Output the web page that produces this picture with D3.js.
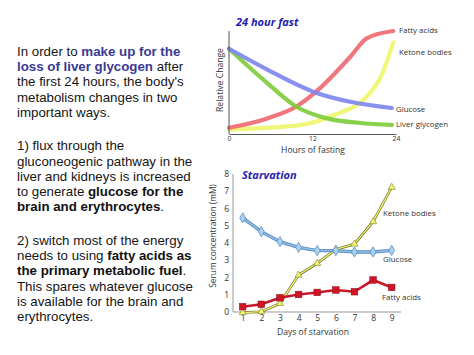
<!DOCTYPE html>
<html><head><meta charset="utf-8">
<script src="https://cdn.jsdelivr.net/npm/d3@7"></script>
<style>html,body{margin:0;padding:0;background:#fff;}svg{display:block;}</style>
</head><body>
<svg id="c" width="474" height="355"></svg>
<script>
// ---- Top chart (24 hour fast): relative change vs hours ----
const fastHours = {
  fatty:    [0, 5.5, 9.8, 12.4, 17.4, 19.8, 23.6],
  ketone:   [0, 10.2, 15, 19.8, 22.1, 23.6],
  glucose:  [0, 5.5, 12.4, 17.4, 23.4],
  glycogen: [0, 5.5, 9.5, 14.1, 18.8, 23.4]
};
const fastFatty    = [6, 15, 27, 40, 74, 92, 99];
const fastKetone   = [4.5, 8.6, 18, 36, 59, 88];
const fastGlucose  = [82, 62, 40, 31, 25];
const fastGlycogen = [82, 49, 27, 15, 10.6, 8.7];
const fastTicks = [0, 12, 24];
const fastLabels = ["Fatty acids", "Ketone bodies", "Glucose", "Liver glycogen"];

// ---- Bottom chart (starvation): serum concentration vs days ----
const days = [1, 2, 3, 4, 5, 6, 7, 8, 9];
const starvGlucose = [5.45, 4.65, 4.07, 3.74, 3.55, 3.55, 3.47, 3.47, 3.56];
const starvKetone  = [-0.05, 0, 0.48, 2.13, 2.81, 3.62, 3.93, 5.23, 7.23];
const starvFatty   = [0.29, 0.43, 0.81, 1.0, 1.12, 1.26, 1.16, 1.84, 1.41];
const yTicks = [0, 1, 2, 3, 4, 5, 6, 7, 8];

// ---- Left text ----
const textLines = [
  [["In order to ", "n"], ["make up for the", "b"]],
  [["loss of liver glycogen", "b"], [" after", "n"]],
  [["the first 24 hours, the body's", "n"]],
  [["metabolism changes in two", "n"]],
  [["important ways.", "n"]],
  null,
  [["1) flux through the", "n"]],
  [["gluconeogenic pathway in the", "n"]],
  [["liver and kidneys is increased", "n"]],
  [["to generate ", "n"], ["glucose for the", "k"]],
  [["brain and erythrocytes", "k"], [".", "n"]],
  null,
  [["2) switch most of the energy", "n"]],
  [["needs to using ", "n"], ["fatty acids as", "k"]],
  [["the primary metabolic fuel", "k"], [".", "n"]],
  [["This spares whatever glucose", "n"]],
  [["is available for the brain and", "n"]],
  [["erythrocytes.", "n"]]
];

const svg = d3.select("#c");
const chartFont = "'Open Sans', 'Noto Sans', sans-serif";

// Left text block
const tx = svg.append("text").attr("x", 17).attr("font-family", "'Liberation Sans', Arial, sans-serif")
  .attr("font-size", 13.3).attr("fill", "#151515");
let ty = 55.9;
textLines.forEach((ln) => {
  if (ln === null) { ty += 18.5; return; }
  ln.forEach((seg, j) => {
    const t = tx.append("tspan").text(seg[0]);
    if (j === 0) t.attr("x", 17).attr("y", ty);
    if (seg[1] === "b") t.attr("font-weight", "bold").attr("fill", "#3a3a95");
    if (seg[1] === "k") t.attr("font-weight", "bold").attr("fill", "#111");
  });
  ty += 15.2;
});

// ===== Top chart =====
const x1 = d3.scaleLinear().domain([0, 24]).range([229, 396]);
const y1 = d3.scaleLinear().domain([0, 100]).range([134, 30]);
const g1 = svg.append("g");

const topSeries = [
  {h: fastHours.fatty, v: fastFatty, c: "#ef6b73"},
  {h: fastHours.ketone, v: fastKetone, c: "#eef56c"},
  {h: fastHours.glucose, v: fastGlucose, c: "#7f88ee"},
  {h: fastHours.glycogen, v: fastGlycogen, c: "#7fcd3e"}
];
const line1 = d3.line().x(d => x1(d[0])).y(d => y1(d[1])).curve(d3.curveMonotoneX);
[1, 0, 3, 2].forEach(i => {
  const s = topSeries[i];
  g1.append("path").attr("d", line1(s.h.map((h, k) => [h, s.v[k]])))
    .attr("fill", "none").attr("stroke", s.c).attr("stroke-width", 4.2)
    .attr("stroke-linecap", "round").attr("opacity", 0.92);
});

const ax1 = d3.axisBottom(x1).tickValues(fastTicks).tickSize(0).tickPadding(2);
const gx1 = g1.append("g").attr("transform", "translate(0,134)").call(ax1);
gx1.select(".domain").attr("stroke", "#555").attr("stroke-width", 1);
gx1.selectAll("text").attr("font-family", chartFont).attr("font-size", 6.8).attr("fill", "#333");
g1.append("line").attr("x1", 229).attr("x2", 229).attr("y1", 31).attr("y2", 134)
  .attr("stroke", "#555").attr("stroke-width", 1);

g1.append("text").attr("x", 313).attr("y", 152.5).attr("text-anchor", "middle")
  .attr("font-family", chartFont).attr("font-size", 8.6).attr("fill", "#333").text("Hours of fasting");
g1.append("text").attr("transform", "translate(223,80) rotate(-90)").attr("text-anchor", "middle")
  .attr("font-family", chartFont).attr("font-size", 8.6).attr("fill", "#333").text("Relative Change");
g1.append("text").attr("x", 236).attr("y", 26).attr("font-family", "'Open Sans', sans-serif")
  .attr("font-weight", "bold").attr("font-style", "italic").attr("font-size", 11)
  .attr("fill", "#1e1eb0").text("24 hour fast");

const topLabelPos = [[399, 33], [399, 55], [396, 112], [396, 127]];
fastLabels.forEach((l, i) => {
  g1.append("text").attr("x", topLabelPos[i][0]).attr("y", topLabelPos[i][1])
    .attr("font-family", chartFont).attr("font-size", 7.9).attr("fill", "#333").text(l);
});

// ===== Bottom chart =====
const x2 = d3.scaleLinear().domain([1, 9]).range([242.7, 391.7]);
const y2 = d3.scaleLinear().domain([0, 8]).range([311.7, 174]);
const g2 = svg.append("g");

const ax2 = d3.axisBottom(x2).tickValues(days).tickSize(0).tickPadding(3).tickFormat(d3.format("d"));
const gx2 = g2.append("g").attr("transform", "translate(0,312)").call(ax2);
gx2.select(".domain").remove();
g2.append("line").attr("x1", 233).attr("x2", 401).attr("y1", 312).attr("y2", 312).attr("stroke", "#999").attr("stroke-width", 1);
gx2.selectAll("text").attr("font-family", chartFont).attr("font-size", 8.5).attr("fill", "#333");
const ay2 = d3.axisLeft(y2).tickValues(yTicks).tickSize(0).tickPadding(4).tickFormat(d3.format("d"));
const gy2 = g2.append("g").attr("transform", "translate(233,0)").call(ay2);
gy2.select(".domain").remove();
g2.append("line").attr("x1", 233).attr("x2", 233).attr("y1", 174).attr("y2", 312).attr("stroke", "#999").attr("stroke-width", 1);
gy2.selectAll("text").attr("font-family", chartFont).attr("font-size", 8.5).attr("fill", "#333");

g2.append("text").attr("x", 313).attr("y", 335).attr("text-anchor", "middle")
  .attr("font-family", chartFont).attr("font-size", 8.6).attr("fill", "#333").text("Days of starvation");
g2.append("text").attr("transform", "translate(216,236) rotate(-90)").attr("text-anchor", "middle")
  .attr("font-family", chartFont).attr("font-size", 8.3).attr("fill", "#333").text("Serum concentration (mM)");
g2.append("text").attr("x", 242).attr("y", 179).attr("font-family", "'Open Sans', sans-serif")
  .attr("font-weight", "bold").attr("font-style", "italic").attr("font-size", 11)
  .attr("fill", "#1e1eb0").text("Starvation");

const line2 = d3.line().x((d, i) => x2(days[i])).y(d => y2(d));

g2.append("path").attr("d", line2(starvKetone)).attr("fill", "none").attr("stroke", "#6b6b2a").attr("stroke-width", 2.6);
g2.append("path").attr("d", line2(starvKetone)).attr("fill", "none").attr("stroke", "#f4f56e").attr("stroke-width", 1.3);
g2.selectAll(".tri").data(starvKetone).join("path")
  .attr("transform", (d, i) => `translate(${x2(days[i])},${y2(d)})`)
  .attr("d", d3.symbol(d3.symbolTriangle, 22)).attr("fill", "#f4f56e").attr("stroke", "#7a7a30").attr("stroke-width", 0.6);

g2.append("path").attr("d", line2(starvGlucose)).attr("fill", "none").attr("stroke", "#5e8fbf").attr("stroke-width", 3.4);
g2.append("path").attr("d", line2(starvGlucose)).attr("fill", "none").attr("stroke", "#8dbde8").attr("stroke-width", 1.5);
g2.selectAll(".dia").data(starvGlucose).join("path")
  .attr("transform", (d, i) => `translate(${x2(days[i])},${y2(d)})`)
  .attr("d", d3.symbol(d3.symbolDiamond, 30)).attr("fill", "#a9d2f2").attr("stroke", "#5b8fc2").attr("stroke-width", 0.8);

g2.append("path").attr("d", line2(starvFatty)).attr("fill", "none").attr("stroke", "#c8182a").attr("stroke-width", 2.6);
g2.selectAll(".sq").data(starvFatty).join("rect")
  .attr("x", (d, i) => x2(days[i]) - 3.3).attr("y", d => y2(d) - 3.3)
  .attr("width", 6.6).attr("height", 6.6).attr("fill", "#d01425").attr("stroke", "#8a0d18").attr("stroke-width", 0.5);

const botLabels = [["Ketone bodies", 383, 216], ["Glucose", 383, 262], ["Fatty acids", 382, 300]];
botLabels.forEach(l => {
  g2.append("text").attr("x", l[1]).attr("y", l[2]).attr("font-family", chartFont)
    .attr("font-size", 7.9).attr("fill", "#333").text(l[0]);
});
</script>
</body></html>
